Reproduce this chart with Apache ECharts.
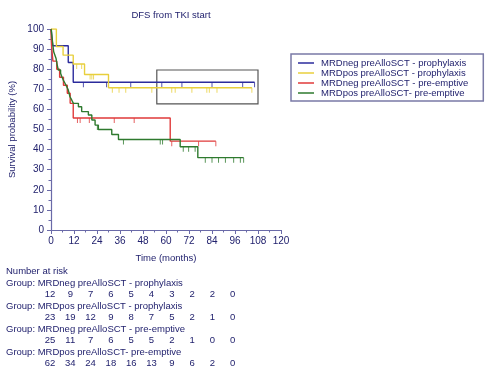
<!DOCTYPE html>
<html>
<head>
<meta charset="utf-8">
<script src="https://cdn.jsdelivr.net/npm/echarts@6/dist/echarts.min.js"></script>
<style>
  html, body { margin: 0; padding: 0; background: #fff; }
  #main { width: 500px; height: 375px; }
</style>
</head>
<body>
<div id="main"></div>
<script>
// group names
var groupNames = [
    'MRDneg preAlloSCT - prophylaxis',
    'MRDpos preAlloSCT - prophylaxis',
    'MRDneg preAlloSCT - pre-emptive',
    'MRDpos preAlloSCT- pre-emptive'
];
var groupColors = ['#2b2b9c', '#e8cf3c', '#e03a3a', '#2e7a2e'];

// KM steps: time (months) and survival (%) after each drop
var blueT = [0, 0.9, 9.0, 11.6, 106.2];
var blueS = [100, 91.7, 83.3, 73.5, 73.5];
var blueCens = [16.9, 29, 41.6, 57.8, 68.3, 84, 100, 106.2];

var yellowT = [0, 2.8, 6.3, 11.6, 17.5, 30.0, 104.8];
var yellowS = [100, 91.3, 87.0, 82.6, 77.4, 70.8, 70.8];
var yellowCens = [13.4, 16, 20.4, 21.3, 22.2, 32, 35.5, 39, 52.6, 63, 64.8, 73.5, 81.3, 82.6, 86.6, 104.8];

var redT = [0, 0.1, 0.3, 0.6, 1.0, 3.0, 4.5, 6.5, 8.5, 10.0, 11.6, 62.2, 86];
var redS = [100, 96, 92, 88, 84, 80, 76, 72, 68, 63, 55.7, 44.2, 44.2];
var redCens = [13.8, 15.2, 20, 33, 43.4, 63, 77, 86];

var greenT = [0, 0.3, 0.6, 1.0, 1.4, 2.0, 2.6, 3.2, 3.8, 5.0, 5.6, 6.4, 7.3, 8.2, 9.0, 9.9, 10.8, 11.7, 14.3, 16.0, 19.5, 21.3, 23.0, 24.7, 31.7, 35.2, 67.4, 76.6, 100.5];
var greenS = [100, 98.4, 95.2, 91.9, 88.7, 87.1, 85.5, 82.3, 79.6, 78.0, 76.4, 74.6, 73.0, 71.3, 69.7, 66.3, 64.7, 63.0, 61.3, 58.9, 57.2, 54.7, 52.2, 50.0, 47.5, 45.0, 41.4, 36.0, 36.0];
var greenCens = [24.2, 37.8, 57, 58.2, 69, 71.8, 75.2, 80.5, 84, 87.4, 91, 95.3, 98.8, 100.5];

// number at risk
var riskTimes = [0, 12, 24, 36, 48, 60, 72, 84, 96, 108];
var riskBlue = [12, 9, 7, 6, 5, 4, 3, 2, 2, 0];
var riskYellow = [23, 19, 12, 9, 8, 7, 5, 2, 1, 0];
var riskRed = [25, 11, 7, 6, 5, 5, 2, 1, 0, 0];
var riskGreen = [62, 34, 24, 18, 16, 13, 9, 6, 2, 0];

var txtColor = '#22226e';
var axisColor = '#6a6aa8';
var font = 'Liberation Sans, Arial, sans-serif';

var curves = [
    {t: blueT, s: blueS, c: blueCens},
    {t: yellowT, s: yellowS, c: yellowCens},
    {t: redT, s: redS, c: redCens},
    {t: greenT, s: greenS, c: greenCens}
];
var risks = [riskBlue, riskYellow, riskRed, riskGreen];

//生存率查找
var levelAt = function(t, s, x) {
    var v = s[0];
    for (var i = 0; i < t.length; i++) {
        if (t[i] <= x) v = s[i];
    }
    return v;
};

var series = [];
curves.forEach(function(cv, k) {
    series.push({
        type: 'line',
        name: groupNames[k],
        step: 'end',
        showSymbol: false,
        color: groupColors[k],
        lineStyle: {width: 1.4, color: groupColors[k]},
        data: cv.t.map(function(x, i) { return [x, cv.s[i]]; }),
        z: 3 + k
    });
});
curves.forEach(function(cv, k) {
    series.push({
        type: 'scatter',
        name: groupNames[k],
        symbol: 'rect',
        symbolSize: [1, 5],
        symbolOffset: [0, '50%'],
        color: groupColors[k],
        itemStyle: {color: groupColors[k]},
        data: cv.c.map(function(x) { return [x, levelAt(cv.t, cv.s, x)]; }),
        z: 3 + k
    });
});
// 方框
series[0].markArea = {
    silent: true,
    itemStyle: {color: 'rgba(0,0,0,0)', borderColor: '#555', borderWidth: 1.2},
    data: [[{coord: [55.2, 79.6]}, {coord: [108, 62.7]}]]
};

// number at risk text
var graphics = [];
var tStyle = function(text, x, y) {
    return {
        type: 'text', left: x, top: y,
        style: {text: text, fill: txtColor, font: '9.5px ' + font}
    };
};
graphics.push(tStyle('Number at risk', 6, 266));
risks.forEach(function(arr, k) {
    var y0 = 278 + k * 23;
    graphics.push(tStyle('Group: ' + groupNames[k], 6, y0));
    arr.forEach(function(n, i) {
        graphics.push({
            type: 'text', x: 50 + i * 20.3, y: y0 + 11.5,
            style: {text: String(n), fill: txtColor, font: '9.5px ' + font, textAlign: 'center'}
        });
    });
});

var myChart = echarts.init(document.getElementById('main'));
myChart.setOption({
    backgroundColor: '#fff',
    animation: false,
    title: {
        text: 'DFS from TKI start',
        left: 166, top: 5, textAlign: 'center',
        textStyle: {color: txtColor, fontSize: 9.5, fontWeight: 'normal', fontFamily: font}
    },
    legend: {
        left: 291, top: 54,
        orient: 'vertical',
        data: groupNames,
        icon: 'rect',
        itemWidth: 16, itemHeight: 1.5,
        itemGap: 0,
        padding: [4, 15, 3, 7],
        borderColor: '#7a7aa6', borderWidth: 1.5,
        textStyle: {color: txtColor, fontSize: 9.5, fontFamily: font, padding: [0, 0, 0, 2]}
    },
    grid: {left: 51, right: 219, top: 29, bottom: 145},
    xAxis: {
        type: 'value', min: 0, max: 120, interval: 12,
        name: 'Time (months)', nameLocation: 'middle', nameGap: 23,
        nameTextStyle: {color: txtColor, fontSize: 9.5, fontFamily: font},
        axisLine: {lineStyle: {color: axisColor, width: 1.2}},
        axisTick: {show: true, length: 4, lineStyle: {color: axisColor}},
        minorTick: {show: true, splitNumber: 2, length: 2.5, lineStyle: {color: axisColor}},
        axisLabel: {color: txtColor, fontSize: 10, fontFamily: font, margin: 6},
        splitLine: {show: false}
    },
    yAxis: {
        type: 'value', min: 0, max: 100, interval: 10,
        name: 'Survival probability (%)', nameLocation: 'middle', nameGap: 34,
        nameTextStyle: {color: txtColor, fontSize: 9.5, fontFamily: font},
        axisLine: {show: true, lineStyle: {color: axisColor, width: 1.2}},
        axisTick: {show: true, length: 4, lineStyle: {color: axisColor}},
        minorTick: {show: true, splitNumber: 2, length: 2.5, lineStyle: {color: axisColor}},
        axisLabel: {color: txtColor, fontSize: 10, fontFamily: font, margin: 7},
        splitLine: {show: false}
    },
    graphic: graphics,
    series: series
});
</script>
</body>
</html>
